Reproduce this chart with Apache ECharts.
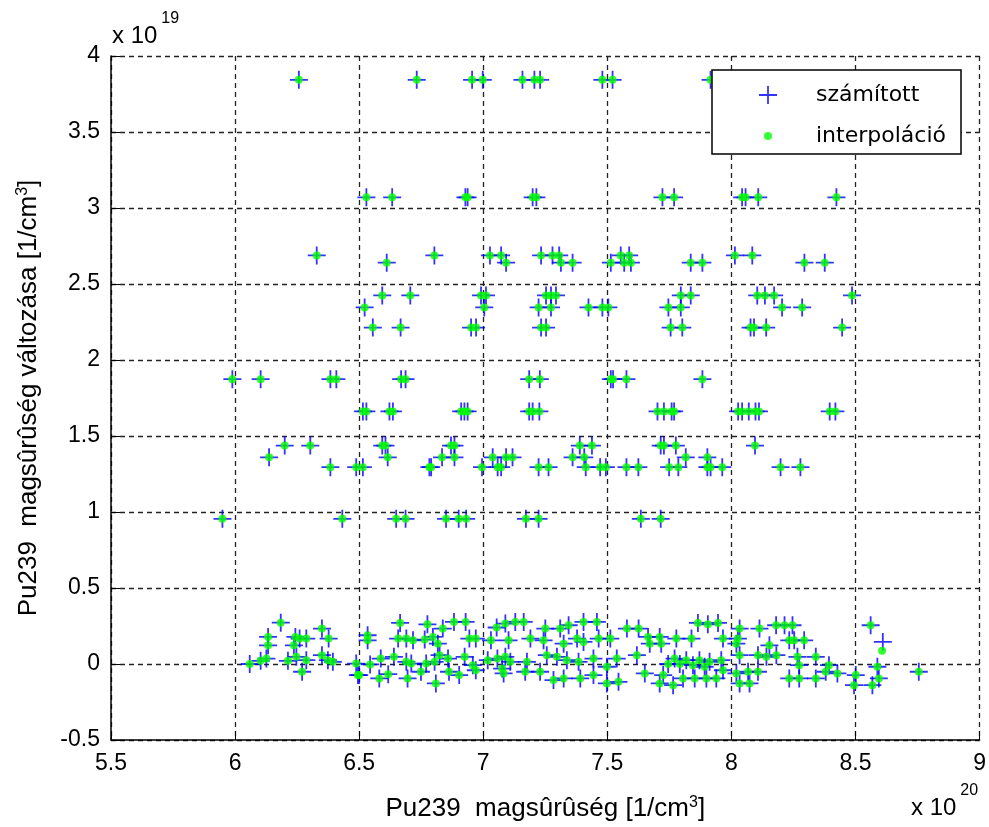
<!DOCTYPE html>
<html>
<head>
<meta charset="utf-8">
<script src="https://cdn.jsdelivr.net/npm/echarts@6/dist/echarts.min.js"></script>
<style>
  html, body { margin: 0; padding: 0; background: #fff; }
  #chart { width: 989px; height: 827px; }
</style>
</head>
<body>
<div id="chart"></div>
<script>
// Pu239 density (x, in 1e20 1/cm3) vs. its change (y, in 1e19 1/cm3)
const xTicks = [5.5, 6, 6.5, 7, 7.5, 8, 8.5, 9];
const yTicks = [-0.5, 0, 0.5, 1, 1.5, 2, 2.5, 3, 3.5, 4];
const seriesNames = ['számított', 'interpoláció'];

// points where computed and interpolated values coincide — upper bands
const upperPoints = [
  [6.257,3.843],[6.732,3.843],[6.955,3.843],[6.998,3.843],[7.158,3.843],[7.206,3.843],[7.229,3.843],[7.480,3.843],[7.521,3.843],[7.916,3.843],
  [6.529,3.07],[6.633,3.07],[6.928,3.07],[6.937,3.07],[7.199,3.07],[7.214,3.07],[7.722,3.07],[7.769,3.07],[8.043,3.07],[8.057,3.07],[8.108,3.07],[8.423,3.07],
  [6.329,2.688],[6.803,2.688],[7.027,2.688],[7.072,2.688],[7.233,2.688],[7.279,2.688],[7.306,2.688],[7.554,2.688],[7.588,2.688],[8.014,2.688],[8.084,2.688],
  [6.611,2.64],[7.092,2.64],[7.313,2.64],[7.360,2.64],[7.514,2.64],[7.568,2.64],[7.595,2.64],[7.836,2.64],[7.883,2.64],[8.294,2.64],[8.376,2.64],
  [6.593,2.425],[6.706,2.425],[6.991,2.425],[7.011,2.425],[7.253,2.425],[7.273,2.425],[7.293,2.425],[7.796,2.425],[7.836,2.425],[8.104,2.425],[8.135,2.425],[8.172,2.425],[8.486,2.425],
  [6.522,2.346],[7.004,2.346],[7.223,2.346],[7.273,2.346],[7.424,2.346],[7.480,2.346],[7.504,2.346],[7.746,2.346],[7.796,2.346],[8.204,2.346],[8.285,2.346],
  [6.555,2.213],[6.667,2.213],[6.951,2.213],[6.971,2.213],[7.233,2.213],[7.253,2.213],[7.755,2.213],[7.802,2.213],[8.077,2.213],[8.091,2.213],[8.140,2.213],[8.446,2.213],
  [5.989,1.874],[6.103,1.874],[6.384,1.874],[6.408,1.874],[6.669,1.874],[6.687,1.874],[7.185,1.874],[7.228,1.874],[7.514,1.874],[7.523,1.874],[7.577,1.874],[7.883,1.874],
  [6.515,1.662],[6.529,1.662],[6.622,1.662],[6.636,1.662],[6.911,1.662],[6.924,1.662],[6.937,1.662],[7.185,1.662],[7.199,1.662],[7.226,1.662],[7.702,1.662],[7.728,1.662],[7.759,1.662],[7.769,1.662],[8.027,1.662],[8.043,1.662],[8.070,1.662],[8.097,1.662],[8.111,1.662],[8.396,1.662],[8.419,1.662],
  [6.200,1.437],[6.303,1.437],[6.593,1.437],[6.606,1.437],[6.870,1.437],[6.884,1.437],[7.389,1.437],[7.438,1.437],[7.715,1.437],[7.728,1.437],[7.776,1.437],[8.095,1.437],
  [6.137,1.36],[6.615,1.36],[6.834,1.36],[6.884,1.36],[7.038,1.36],[7.092,1.36],[7.118,1.36],[7.360,1.36],[7.407,1.36],[7.816,1.36],[7.903,1.36],
  [6.384,1.295],[6.488,1.295],[6.515,1.295],[6.783,1.295],[6.790,1.295],[6.995,1.295],[7.058,1.295],[7.072,1.295],[7.223,1.295],[7.263,1.295],[7.413,1.295],[7.471,1.295],[7.494,1.295],[7.577,1.295],[7.625,1.295],[7.749,1.295],[7.786,1.295],[7.903,1.295],[7.916,1.295],[7.963,1.295],[8.198,1.295],[8.278,1.295],
  [5.949,0.955],[6.432,0.955],[6.649,0.955],[6.687,0.955],[6.850,0.955],[6.901,0.955],[6.931,0.955],[7.172,0.955],[7.223,0.955],[7.635,0.955],[7.715,0.955]
];

// points where computed and interpolated values coincide — band around zero
const lowerPoints = [
  [6.184,0.272],[6.133,0.178],[6.133,0.123],[6.059,0.0],[6.103,0.021],[6.126,0.036],[6.243,0.178],[6.260,0.167],[6.287,0.167],[6.237,0.123],
  [6.35,0.233],[6.377,0.167],[6.247,0.047],[6.213,0.021],[6.287,0.025],[6.27,-0.051],[6.35,0.058],[6.374,0.025],[6.394,0.014],[6.488,0.003],[6.495,-0.073],
  [6.534,0.189],[6.534,0.156],[6.665,0.27],[6.775,0.261],[6.882,0.277],[6.929,0.277],[7.054,0.24],[6.657,0.167],[6.69,0.167],[6.717,0.156],
  [6.764,0.161],[6.797,0.178],[6.817,0.134],[6.837,0.233],[6.944,0.167],[6.97,0.167],[7.031,0.156],[6.587,0.036],[6.544,-0.003],[6.64,0.047],
  [6.69,0.014],[6.71,0.003],[6.77,0.003],[6.804,0.014],[6.824,0.058],[6.858,0.036],[6.925,0.047],[6.958,-0.008],[7.018,0.025],[7.057,0.036],
  [6.5,-0.073],[6.581,-0.095],[6.617,-0.067],[6.695,-0.095],[6.749,-0.051],[6.809,-0.128],[6.862,-0.051],[6.903,-0.073],[6.97,-0.041],
  [7.089,0.266],[7.129,0.277],[7.163,0.277],[7.25,0.233],[7.31,0.233],[7.344,0.255],[7.404,0.277],[7.458,0.277],[7.102,0.156],[7.19,0.167],
  [7.243,0.156],[7.324,0.134],[7.378,0.167],[7.404,0.145],[7.465,0.167],[7.512,0.167],[7.579,0.233],[7.626,0.233],[7.089,0.047],[7.109,0.014],
  [7.176,0.014],[7.256,0.058],[7.297,0.047],[7.337,0.025],[7.384,0.014],[7.444,0.036],[7.498,-0.018],[7.538,0.036],[7.619,0.058],[7.082,-0.062],
  [7.169,-0.051],[7.229,-0.051],[7.283,-0.106],[7.324,-0.095],[7.391,-0.095],[7.444,-0.073],[7.498,-0.128],[7.545,-0.117],[7.076,-0.03],
  [7.865,0.27],[7.905,0.261],[7.946,0.27],[8.033,0.233],[8.113,0.233],[8.18,0.255],[8.214,0.255],[7.664,0.178],[7.711,0.178],[7.778,0.167],
  [7.839,0.167],[7.966,0.167],[8.026,0.167],[7.671,0.134],[7.717,0.134],[8.153,0.123],[8.033,0.058],[8.107,0.058],[8.141,0.047],[8.181,0.058],
  [7.771,0.036],[7.818,0.025],[7.871,0.025],[7.912,0.014],[7.959,0.025],[7.745,0.0],[7.792,0.0],[7.845,-0.008],[7.892,-0.018],[7.966,-0.041],
  [7.651,-0.062],[7.725,-0.073],[7.805,-0.095],[7.852,-0.095],[7.899,-0.095],[7.939,-0.095],[8.02,-0.062],[8.067,-0.051],[8.107,-0.051],
  [7.711,-0.128],[7.765,-0.139],[8.033,-0.128],[8.073,-0.128],[8.02,0.134],
  [8.246,0.255],[8.233,0.156],[8.253,0.156],[8.293,0.156],[8.266,0.047],[8.273,-0.008],[8.34,0.047],[8.393,-0.008],[8.38,-0.051],[8.427,-0.062],
  [8.233,-0.095],[8.273,-0.095],[8.34,-0.095],[8.501,-0.073],[8.494,-0.139],[8.568,-0.139],[8.588,-0.018],[8.594,-0.095],[8.561,0.255],[8.755,-0.051]
];

// the one point where the two methods differ
const computedOnly = [[8.61, 0.145]];
const interpolatedOnly = [[8.607, 0.087]];

const computedData = upperPoints.concat(lowerPoints, computedOnly);
const interpolatedData = upperPoints.concat(lowerPoints, interpolatedOnly);

const FONT = '"Liberation Sans", Arial, Helvetica, sans-serif';
const LEGEND_FONT = '"DejaVu Sans", sans-serif';
const crossPath = 'path://M9,0h2v9h9v2h-9v9h-2v-9h-9v-2h9z';

const chart = echarts.init(document.getElementById('chart'), null, { renderer: 'canvas' });

const gridLine = { show: true, lineStyle: { color: '#222', type: [5, 4], width: 1.3 } };
const supStyle = { fontSize: 16, fontFamily: FONT, color: '#000', verticalAlign: 'bottom', padding: [0, 0, 12, 0] };
// axis multiplier labels: base text and raised exponent
const multRich = {
  m: { fontSize: 24, fontFamily: FONT, fill: '#000', verticalAlign: 'bottom' },
  s: { fontSize: 16, fontFamily: FONT, fill: '#000', verticalAlign: 'bottom', padding: [0, 0, 21, 4] }
};

chart.setOption({
  animation: false,
  backgroundColor: '#fff',
  grid: { left: 111, top: 56, right: 8, bottom: 86, containLabel: false },
  xAxis: {
    type: 'value', min: xTicks[0], max: xTicks[xTicks.length - 1], interval: 0.5,
    axisLine: { show: true, onZero: false, lineStyle: { color: '#000', width: 1.5 } },
    axisTick: { show: true, inside: true, length: 9, lineStyle: { color: '#000' } },
    axisLabel: { color: '#000', fontFamily: FONT, fontSize: 23, margin: 12, formatter: v => String(v) },
    splitLine: gridLine,
    name: 'Pu239  magsûrûség [1/cm{s|3}]',
    nameLocation: 'middle', nameGap: 83,
    nameTextStyle: {
      color: '#000', fontFamily: FONT, fontSize: 26, verticalAlign: 'bottom',
      rich: { s: supStyle }
    }
  },
  yAxis: {
    type: 'value', min: yTicks[0], max: yTicks[yTicks.length - 1], interval: 0.5,
    axisLine: { show: true, onZero: false, lineStyle: { color: '#000', width: 1.5 } },
    axisTick: { show: true, inside: true, length: 9, lineStyle: { color: '#000' } },
    axisLabel: { color: '#000', fontFamily: FONT, fontSize: 23, margin: 11, formatter: v => String(v) },
    splitLine: gridLine,
    name: 'Pu239  magsûrûség változása [1/cm{s|3}]',
    nameLocation: 'middle', nameGap: 68,
    nameTextStyle: {
      color: '#000', fontFamily: FONT, fontSize: 26, verticalAlign: 'bottom',
      rich: { s: supStyle }
    }
  },
  legend: [
    {
      data: [seriesNames[0]], left: 759, top: 84, padding: 0, itemWidth: 18, itemHeight: 18, z: 20,
      textStyle: { color: '#000', fontFamily: LEGEND_FONT, fontSize: 22, padding: [0, 0, 0, 34] }
    },
    {
      data: [seriesNames[1]], left: 764, top: 125, padding: 0, itemWidth: 8, itemHeight: 8, z: 20,
      textStyle: { color: '#000', fontFamily: LEGEND_FONT, fontSize: 22, padding: [0, 0, 0, 39] }
    }
  ],
  graphic: [
    { type: 'rect', z: 10, shape: { x: 712, y: 70, width: 249, height: 84 },
      style: { fill: '#fff', stroke: '#000', lineWidth: 1.5 } },
    { type: 'text', left: 112, top: 11, z: 10,
      style: { text: '{m|x 10}{s|19}', rich: multRich } },
    { type: 'text', left: 911, top: 783, z: 10,
      style: { text: '{m|x 10}{s|20}', rich: multRich } }
  ],
  series: [
    {
      name: seriesNames[0], type: 'scatter', data: computedData,
      symbol: crossPath, symbolSize: 18, z: 2,
      itemStyle: { color: '#0000ff' }
    },
    {
      name: seriesNames[1], type: 'scatter', data: interpolatedData,
      symbol: 'circle', symbolSize: 8, z: 3,
      itemStyle: { color: '#00ff00' }
    }
  ]
});
</script>
</body>
</html>
